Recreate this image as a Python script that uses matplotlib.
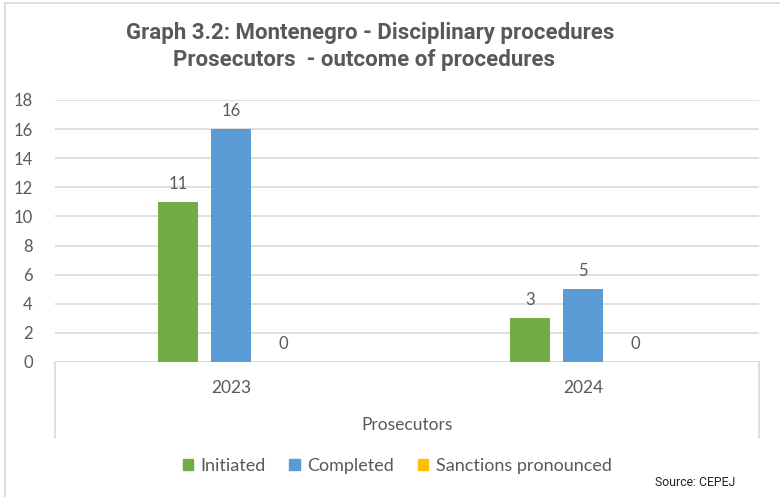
import numpy as np
import matplotlib.pyplot as plt
from matplotlib.patches import Patch
from matplotlib.lines import Line2D

years = ["2023", "2024"]
series = ["Initiated", "Completed", "Sanctions pronounced"]
initiated = [11, 3]
completed = [16, 5]
sanctions = [0, 0]
colors = ["#70AD47", "#5B9BD5", "#FFC000"]
txt = "#595959"

plt.rcParams['font.family'] = ['Lato', 'DejaVu Sans']

fig = plt.figure(figsize=(7.8, 4.97), dpi=100)
ax = fig.add_axes([55/780, 1-362/497, (759-55)/780, (362-100)/497])

x = np.arange(len(years))
w = 0.114
step = 0.15
vals = [initiated, completed, sanctions]
for i, v in enumerate(vals):
    bars = ax.bar(x + (i-1)*step, v, w, color=colors[i], zorder=3)
    for b, val in zip(bars, v):
        ax.text(b.get_x() + b.get_width()/2, val + 0.7, str(val), ha='center', va='bottom',
                fontsize=12, color=txt)

ax.set_xlim(-0.5, 1.5)
ax.set_ylim(0, 18)
ax.set_yticks(range(0, 19, 2))
ax.grid(axis='y', color='#D9D9D9', lw=1.2, zorder=0)
for s in ax.spines.values():
    s.set_visible(False)
ax.tick_params(axis='y', length=0, pad=16, labelsize=12, labelcolor=txt)
ax.tick_params(axis='x', length=0, labelbottom=False)

# multi-level category axis
tr = ax.get_xaxis_transform()
ax.axhline(0, color='#D9D9D9', lw=1.2, zorder=2)
bot = -(438-362)/262
for xv in [0, 1]:
    ax.add_line(Line2D([xv, xv], [0, bot], transform=ax.transAxes, color='#D9D9D9',
                       lw=1.2, clip_on=False))
for xi, yr in zip(x, years):
    ax.text(xi, -(388-362)/262, yr, transform=tr, ha='center', va='center',
            fontsize=12.5, color=txt)
ax.text(0.5, -(425-362)/262, "Prosecutors", transform=ax.transAxes, ha='center',
        va='center', fontsize=12.5, color=txt)

fig.text(370/780, 1-33/497, "Graph 3.2: Montenegro - Disciplinary procedures",
         ha='center', va='center', fontsize=16, fontweight='bold', color=txt,
         family='Roboto')
fig.text(364/780, 1-60/497, "Prosecutors  - outcome of procedures",
         ha='center', va='center', fontsize=16, fontweight='bold', color=txt,
         family='Roboto')

handles = [Patch(color=c) for c in colors]
fig.legend(handles, series, loc='center', bbox_to_anchor=(397/780, 1-466/497), ncol=3,
           frameon=False, fontsize=13, labelcolor=txt, handlelength=0.6,
           handleheight=0.6, handletextpad=0.4, columnspacing=1.3)

fig.text(735/780, 1-482/497, "Source: CEPEJ", ha='right', va='center', fontsize=8.8,
         color='#222222', family='Roboto')

# outer frame
fig.add_artist(Line2D([5/780, 5/780], [0, 1-3/497], transform=fig.transFigure,
                      color='#D9D9D9', lw=1.2))
fig.add_artist(Line2D([5/780, 1], [1-3/497, 1-3/497], transform=fig.transFigure,
                      color='#D9D9D9', lw=1.2))

plt.savefig("out.png")
